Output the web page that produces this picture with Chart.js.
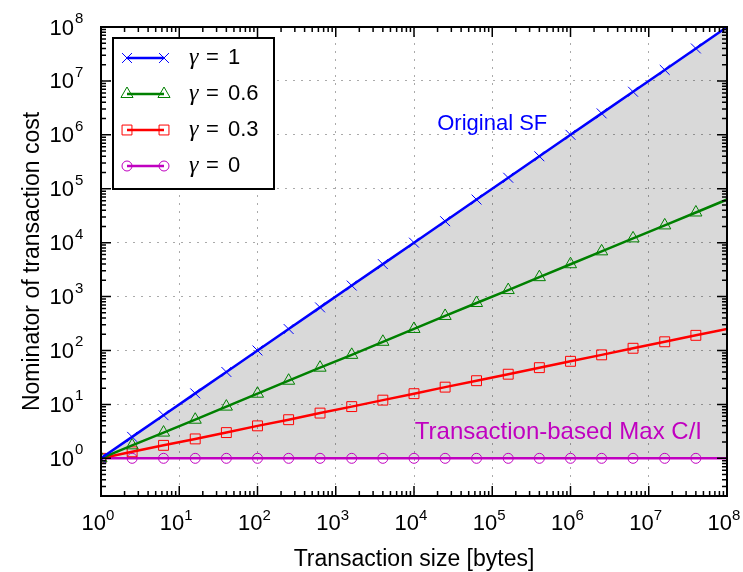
<!DOCTYPE html>
<html>
<head>
<meta charset="utf-8">
<script src="https://cdn.jsdelivr.net/npm/chart.js@4"></script>
<style>
  html, body { margin: 0; padding: 0; background: white; }
</style>
</head>
<body>
<canvas id="myChart" width="743" height="572"></canvas>
<script>
// transaction sizes where the markers sit (every 0.4 decade)
const sizes = [1, 2.5, 6.3, 16, 40, 100, 250, 630, 1600, 4000, 1e4, 2.5e4, 6.3e4, 1.6e5, 4e5, 1e6, 2.5e6, 6.3e6, 1.6e7, 4e7, 1e8];
const costG1 = [1, 2.5, 6.3, 16, 40, 100, 250, 630, 1600, 4000, 1e4, 2.5e4, 6.3e4, 1.6e5, 4e5, 1e6, 2.5e6, 6.3e6, 1.6e7, 4e7, 1e8];
const costG06 = [1, 1.74, 3.0, 5.2, 9.1, 15.8, 27.5, 48, 83, 145, 251, 437, 760, 1320, 2290, 3980, 6900, 12000, 20900, 36300, 63100];
const costG03 = [1, 1.32, 1.74, 2.29, 3.0, 4.0, 5.2, 6.9, 9.1, 12, 15.8, 20.9, 27.5, 36.3, 48, 63, 83, 110, 145, 191, 251];
const costG0 = [1, 1, 1, 1, 1, 1, 1, 1, 1, 1, 1, 1, 1, 1, 1, 1, 1, 1, 1, 1, 1];
const gammaLabels = ["1", "0.6", "0.3", "0"];
const tickExponents = [0, 1, 2, 3, 4, 5, 6, 7, 8];

const font = "'Liberation Sans', Arial, sans-serif";

function points(ys) {
  return sizes.map((s, i) => ({ x: s, y: ys[i] }));
}

function isDecade(v) {
  const l = Math.log10(v);
  return Math.abs(l - Math.round(l)) < 1e-6;
}

function series(label, ys, color, style, radius) {
  return {
    label: label,
    data: points(ys),
    borderColor: color,
    borderWidth: 2.5,
    pointStyle: style,
    pointRadius: c => c.dataIndex === sizes.length - 1 ? 0 : radius,
    pointBorderColor: color,
    pointBackgroundColor: "rgba(0,0,0,0)",
    pointBorderWidth: 1,
    fill: false,
    clip: 0,
    tension: 0
  };
}

const datasets = [
  series(gammaLabels[0], costG1, "#0000ff", "crossRot", 7),
  series(gammaLabels[1], costG06, "#008000", "triangle", 7),
  series(gammaLabels[2], costG03, "#ff0000", "rect", 7),
  series(gammaLabels[3], costG0, "#c000c0", "circle", 5)
];
// grey area between gamma = 1 and gamma = 0
datasets[0].fill = 3;
datasets[0].backgroundColor = "rgba(0,0,0,0.15)";

// inward ticks, box, tick labels, titles, notes and legend
const frame = {
  id: "frame",
  afterDraw(chart) {
    const { ctx, chartArea: a, scales: { x, y } } = chart;
    ctx.save();

    ctx.strokeStyle = "black";
    ctx.lineWidth = 1.5;
    function decadeTicks(scale) {
      const out = [];
      const lo = Math.floor(Math.log10(scale.min));
      const hi = Math.ceil(Math.log10(scale.max));
      for (let d = lo; d <= hi; d++) {
        for (let m = 1; m <= 9; m++) {
          const v = m * Math.pow(10, d);
          if (v >= scale.min * 0.999 && v <= scale.max * 1.001) out.push({ v: v, major: m === 1 });
        }
      }
      return out;
    }
    ctx.beginPath();
    decadeTicks(x).forEach(t => {
      const px = x.getPixelForValue(t.v);
      const len = t.major ? 10 : 5;
      ctx.moveTo(px, a.bottom); ctx.lineTo(px, a.bottom - len);
      ctx.moveTo(px, a.top); ctx.lineTo(px, a.top + len);
    });
    decadeTicks(y).forEach(t => {
      const py = y.getPixelForValue(t.v);
      const len = t.major ? 10 : 5;
      ctx.moveTo(a.left, py); ctx.lineTo(a.left + len, py);
      ctx.moveTo(a.right, py); ctx.lineTo(a.right - len, py);
    });
    ctx.stroke();

    ctx.lineWidth = 2;
    ctx.strokeRect(a.left, a.top, a.right - a.left, a.bottom - a.top);

    // tick labels 10^n
    ctx.fillStyle = "black";
    const big = "22px " + font, small = "15px " + font;
    tickExponents.forEach(e => {
      const v = Math.pow(10, e);
      // x axis
      ctx.font = big;
      const w10 = ctx.measureText("10").width;
      ctx.font = small;
      const ws = ctx.measureText(String(e)).width;
      const px = x.getPixelForValue(v);
      const start = px - 3 - (w10 + ws) / 2;
      ctx.textAlign = "left";
      ctx.textBaseline = "alphabetic";
      ctx.font = big;
      ctx.fillText("10", start, a.bottom + 34);
      ctx.font = small;
      ctx.fillText(String(e), start + w10, a.bottom + 23.5);
      // y axis
      const py = y.getPixelForValue(v);
      ctx.font = big;
      ctx.textAlign = "right";
      ctx.fillText("10", a.left - 27, py + 7.5);
      ctx.font = small;
      ctx.textAlign = "left";
      ctx.fillText(String(e), a.left - 26, py - 4);
    });

    // axis titles
    ctx.font = "23px " + font;
    ctx.textAlign = "center";
    ctx.fillText("Transaction size [bytes]", (a.left + a.right) / 2, a.bottom + 70);
    ctx.save();
    ctx.translate(39, (a.top + a.bottom) / 2);
    ctx.rotate(-Math.PI / 2);
    ctx.fillText("Nominator of transaction cost", 0, 0);
    ctx.restore();

    // notes on the chart
    ctx.textBaseline = "middle";
    ctx.font = "22px " + font;
    ctx.fillStyle = "#0000ff";
    ctx.fillText("Original SF", x.getPixelForValue(1e5), y.getPixelForValue(1.6e6));
    ctx.font = "24px " + font;
    ctx.fillStyle = "#c000c0";
    ctx.fillText("Transaction-based Max C/I", x.getPixelForValue(7e5), y.getPixelForValue(3));

    // legend box
    const lx = a.left + 12, ly = a.top + 11;
    ctx.fillStyle = "white";
    ctx.fillRect(lx, ly, 161, 151);
    ctx.strokeStyle = "black";
    ctx.lineWidth = 2;
    ctx.strokeRect(lx, ly, 161, 151);
    chart.data.datasets.forEach((ds, i) => {
      const ry = ly + 20 + 36 * i;
      ctx.strokeStyle = ds.borderColor;
      ctx.lineWidth = 2.5;
      ctx.beginPath();
      ctx.moveTo(lx + 14, ry); ctx.lineTo(lx + 51, ry);
      ctx.stroke();
      ctx.lineWidth = 1;
      ctx.fillStyle = "rgba(0,0,0,0)";
      const r = ds.pointStyle === "circle" ? 5 : 7;
      [lx + 14, lx + 51].forEach(mx => {
        Chart.helpers.drawPoint(ctx, { pointStyle: ds.pointStyle, rotation: 0, radius: r, borderWidth: 1 }, mx, ry);
      });
      ctx.fillStyle = "black";
      ctx.textAlign = "left";
      ctx.textBaseline = "middle";
      ctx.font = "italic 24px 'Liberation Serif', serif";
      ctx.fillText("γ", lx + 76, ry);
      ctx.font = "22px " + font;
      ctx.fillText("=", lx + 93, ry);
      ctx.fillText(ds.label, lx + 115, ry);
    });

    ctx.restore();
  }
};

const gridColor = c => isDecade(c.tick.value) ? "#aaaaaa" : "rgba(0,0,0,0)";

new Chart(document.getElementById("myChart"), {
  type: "line",
  data: { datasets: datasets },
  options: {
    responsive: false,
    animation: false,
    layout: { padding: { left: 101, top: 27, right: 16, bottom: 76 } },
    scales: {
      x: {
        type: "logarithmic",
        min: 1,
        max: 1e8,
        grid: { color: gridColor, lineWidth: 1, drawTicks: false },
        border: { display: false, dash: [2, 6] },
        ticks: { display: false }
      },
      y: {
        type: "logarithmic",
        min: 0.2,
        max: 1e8,
        grid: { color: gridColor, lineWidth: 1, drawTicks: false },
        border: { display: false, dash: [2, 6] },
        ticks: { display: false }
      }
    },
    plugins: {
      legend: { display: false },
      tooltip: { enabled: false },
      filler: { drawTime: "beforeDatasetsDraw" }
    }
  },
  plugins: [frame]
});
</script>
</body>
</html>
